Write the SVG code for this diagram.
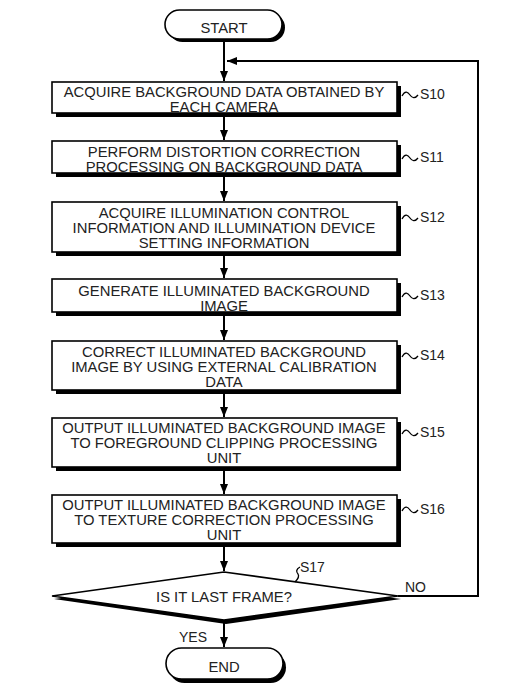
<svg xmlns="http://www.w3.org/2000/svg" width="514" height="697" viewBox="0 0 514 697">
<defs>
<marker id="ah" markerWidth="10" markerHeight="8" refX="10" refY="4" orient="auto" markerUnits="userSpaceOnUse">
<path d="M0,0 L10,4 L0,8 z" fill="#000"/>
</marker>
<style>
.box{fill:#fff;stroke:#000;stroke-width:1.6}
.sh{fill:#000}
.t{font-family:"Liberation Sans",Arial,sans-serif;font-size:14.8px;fill:#222;text-anchor:middle}
.lb{font-family:"Liberation Sans",Arial,sans-serif;font-size:14px;fill:#222}
.ln{fill:none;stroke:#000;stroke-width:2}
.sq{fill:none;stroke:#000;stroke-width:1.3}
</style>
</defs>
<rect width="514" height="697" fill="#fff"/>

<g id="connectors">
<line class="ln" x1="224" y1="39" x2="224" y2="81" marker-end="url(#ah)"/>
<polyline class="ln" points="398,596 478,596 478,61 227,61" marker-end="url(#ah)"/>
<line class="ln" x1="224" y1="113" x2="224" y2="140" marker-end="url(#ah)"/>
<line class="ln" x1="224" y1="173" x2="224" y2="201" marker-end="url(#ah)"/>
<line class="ln" x1="224" y1="252" x2="224" y2="278" marker-end="url(#ah)"/>
<line class="ln" x1="224" y1="312" x2="224" y2="340" marker-end="url(#ah)"/>
<line class="ln" x1="224" y1="390" x2="224" y2="417" marker-end="url(#ah)"/>
<line class="ln" x1="224" y1="467" x2="224" y2="494" marker-end="url(#ah)"/>
<line class="ln" x1="224" y1="543" x2="224" y2="571" marker-end="url(#ah)"/>
<line class="ln" x1="224" y1="620" x2="224" y2="647" marker-end="url(#ah)"/>
</g>

<g id="start">
<rect class="sh" x="168" y="13" width="117" height="29" rx="14.5"/>
<rect class="box" x="165" y="10" width="117" height="29" rx="14.5"/>
<text class="t" x="224" y="33">START</text>
</g>

<g id="s10">
<rect class="sh" x="56" y="86" width="345" height="31"/>
<rect class="box" x="52" y="82" width="345" height="31"/>
<text class="t" x="224" y="96.5">ACQUIRE BACKGROUND DATA OBTAINED BY</text>
<text class="t" x="224" y="111.5">EACH CAMERA</text>
<path class="sq" d="M402,96 C405,90 408,92 410,95 C412,98 415,99 418,95"/>
<text class="lb" x="420" y="99">S10</text>
</g>

<g id="s11">
<rect class="sh" x="56" y="145" width="345" height="32"/>
<rect class="box" x="52" y="141" width="345" height="32"/>
<text class="t" x="224" y="156.5">PERFORM DISTORTION CORRECTION</text>
<text class="t" x="224" y="171.5">PROCESSING ON BACKGROUND DATA</text>
<path class="sq" d="M402,159 C405,153 408,155 410,158 C412,161 415,162 418,158"/>
<text class="lb" x="420" y="162">S11</text>
</g>

<g id="s12">
<rect class="sh" x="56" y="206" width="345" height="50"/>
<rect class="box" x="52" y="202" width="345" height="50"/>
<text class="t" x="224" y="218">ACQUIRE ILLUMINATION CONTROL</text>
<text class="t" x="224" y="233">INFORMATION AND ILLUMINATION DEVICE</text>
<text class="t" x="224" y="248">SETTING INFORMATION</text>
<path class="sq" d="M402,219 C405,213 408,215 410,218 C412,221 415,222 418,218"/>
<text class="lb" x="420" y="222">S12</text>
</g>

<g id="s13">
<rect class="sh" x="56" y="283" width="345" height="33"/>
<rect class="box" x="52" y="279" width="345" height="33"/>
<text class="t" x="224" y="295.5">GENERATE ILLUMINATED BACKGROUND</text>
<text class="t" x="224" y="310.5">IMAGE</text>
<path class="sq" d="M402,297 C405,291 408,293 410,296 C412,299 415,300 418,296"/>
<text class="lb" x="420" y="300">S13</text>
</g>

<g id="s14">
<rect class="sh" x="56" y="345" width="345" height="49"/>
<rect class="box" x="52" y="341" width="345" height="49"/>
<text class="t" x="224" y="357">CORRECT ILLUMINATED BACKGROUND</text>
<text class="t" x="224" y="372">IMAGE BY USING EXTERNAL CALIBRATION</text>
<text class="t" x="224" y="387">DATA</text>
<path class="sq" d="M402,357 C405,351 408,353 410,356 C412,359 415,360 418,356"/>
<text class="lb" x="420" y="360">S14</text>
</g>

<g id="s15">
<rect class="sh" x="56" y="422" width="345" height="49"/>
<rect class="box" x="52" y="418" width="345" height="49"/>
<text class="t" x="224" y="433">OUTPUT ILLUMINATED BACKGROUND IMAGE</text>
<text class="t" x="224" y="448">TO FOREGROUND CLIPPING PROCESSING</text>
<text class="t" x="224" y="463">UNIT</text>
<path class="sq" d="M402,434 C405,428 408,430 410,433 C412,436 415,437 418,433"/>
<text class="lb" x="420" y="437">S15</text>
</g>

<g id="s16">
<rect class="sh" x="56" y="499" width="345" height="48"/>
<rect class="box" x="52" y="495" width="345" height="48"/>
<text class="t" x="224" y="510">OUTPUT ILLUMINATED BACKGROUND IMAGE</text>
<text class="t" x="224" y="525">TO TEXTURE CORRECTION PROCESSING</text>
<text class="t" x="224" y="540">UNIT</text>
<path class="sq" d="M402,511 C405,505 408,507 410,510 C412,513 415,514 418,510"/>
<text class="lb" x="420" y="514">S16</text>
</g>

<g id="s17">
<polygon class="sh" points="226,576 401,599 226,624 54,599"/>
<polygon class="box" points="224,572 398,596 224,620 52,596"/>
<text class="t" x="224" y="602">IS IT LAST FRAME?</text>
<path class="sq" d="M300,567 C296,569 296,572 298,574 C300,577 297,580 295,582"/>
<text class="lb" x="300" y="572">S17</text>
<text class="lb" x="405" y="592">NO</text>
<text class="lb" x="179" y="642">YES</text>
</g>

<g id="end">
<rect class="sh" x="169" y="652" width="117" height="31" rx="15.5"/>
<rect class="box" x="166" y="648" width="117" height="31" rx="15.5"/>
<text class="t" x="224" y="672">END</text>
</g>
</svg>
